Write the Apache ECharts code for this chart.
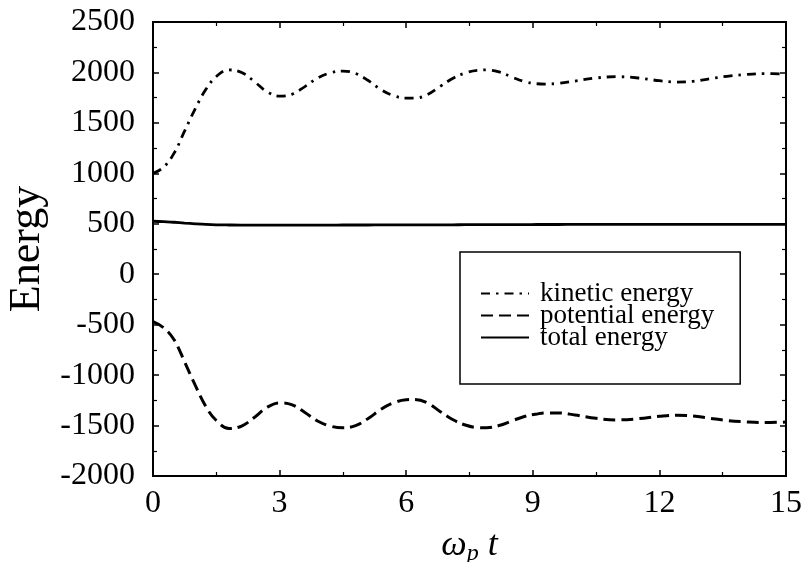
<!DOCTYPE html>
<html>
<head>
<meta charset="utf-8">
<script src="https://cdn.jsdelivr.net/npm/echarts@6/dist/echarts.min.js"></script>
<style>html,body{margin:0;padding:0;background:#fff;}#c{width:804px;height:562px;}</style>
</head>
<body>
<div id="c"></div>
<script>
const time = [0,0.25,0.5,0.75,1.0,1.25,1.5,1.8,2.1,2.4,2.7,3.0,3.3,3.6,3.9,4.2,4.5,4.8,5.1,5.4,5.7,6.0,6.2,6.5,6.8,7.1,7.4,7.7,7.9,8.2,8.5,8.8,9.1,9.3,9.6,10.0,10.5,11.0,11.5,12.0,12.4,12.8,13.2,13.6,14.0,14.5,15.0];
const kinetic = [1000,1060,1200,1420,1640,1830,1960,2025,2000,1910,1810,1765,1785,1860,1945,1995,2014,1990,1920,1830,1770,1745,1745,1780,1860,1940,1995,2022,2025,2005,1955,1910,1888,1885,1892,1915,1945,1958,1945,1918,1905,1912,1938,1962,1978,1988,1985];
const potential = [-470,-530,-650,-870,-1100,-1310,-1450,-1530,-1505,-1420,-1320,-1275,-1295,-1370,-1455,-1505,-1522,-1500,-1430,-1340,-1275,-1245,-1242,-1275,-1360,-1440,-1495,-1520,-1522,-1500,-1455,-1410,-1385,-1375,-1375,-1395,-1428,-1444,-1432,-1408,-1397,-1405,-1428,-1450,-1462,-1470,-1465];
const total = [525,522,515,507,500,494,490,488,487,487,487,487,487,487,487,487,488,488,488,489,489,490,490,490,490,490,491,491,491,492,492,492,493,493,493,494,494,494,495,495,495,495,495,495,495,495,495];
const xTicks = {min:0, max:15, interval:3};
const yTicks = {min:-2000, max:2500, interval:500};
const seriesNames = ['kinetic energy','potential energy','total energy'];

const pair = (ys) => time.map((t,i)=>[t, ys[i]]);
const font = 'Liberation Serif';
const chart = echarts.init(document.getElementById('c'));
const tickCommon = {show:true, inside:true, length:6, lineStyle:{color:'#000', width:1.5}};
const minorCommon = {show:true, splitNumber:2, length:4, lineStyle:{color:'#000', width:1.2}};
const axisLineCommon = {show:true, onZero:false, lineStyle:{color:'#000', width:2}};
chart.setOption({
  animation:false,
  backgroundColor:'#fff',
  grid:{left:153, right:18, top:22, bottom:86, show:true, borderColor:'#000', borderWidth:2, outerBoundsMode:'none', containLabel:false},
  legend:{
    left:460, top:252, orient:'vertical', data:seriesNames,
    backgroundColor:'#fff', borderColor:'#000', borderWidth:1.5,
    padding:[28,26,33,20], itemGap:-5, itemWidth:48, itemHeight:14,
    itemStyle:{color:'rgba(0,0,0,0)', borderWidth:0, opacity:0},
    textStyle:{fontFamily:font, fontSize:27, color:'#000', padding:[0,0,0,6]}
  },
  xAxis:[{
    type:'value', min:xTicks.min, max:xTicks.max, interval:xTicks.interval,
    axisLine:axisLineCommon,
    axisTick:tickCommon, minorTick:minorCommon, splitLine:{show:false},
    axisLabel:{fontFamily:font, fontSize:32, color:'#000', margin:12, formatter:(v)=>String(v)},
    name:'{a|ω}{b|p}{a| t}', nameLocation:'middle', nameGap:50,
    nameTextStyle:{rich:{a:{fontFamily:font, fontStyle:'italic', fontSize:36, color:'#000'}, b:{fontFamily:font, fontStyle:'italic', fontSize:24, color:'#000', verticalAlign:'bottom', padding:[16,0,0,0]}}}
  },{
    type:'value', position:'top', min:xTicks.min, max:xTicks.max, interval:xTicks.interval,
    axisLine:axisLineCommon,
    axisTick:tickCommon, minorTick:minorCommon, splitLine:{show:false}, axisLabel:{show:false}
  }],
  yAxis:[{
    type:'value', min:yTicks.min, max:yTicks.max, interval:yTicks.interval,
    axisLine:axisLineCommon,
    axisTick:tickCommon, minorTick:minorCommon, splitLine:{show:false},
    axisLabel:{fontFamily:font, fontSize:32, color:'#000', margin:18, formatter:(v)=>String(v)},
    name:'Energy', nameLocation:'middle', nameGap:104, nameRotate:90,
    nameTextStyle:{fontFamily:font, fontSize:44, color:'#000'}
  },{
    type:'value', position:'right', min:yTicks.min, max:yTicks.max, interval:yTicks.interval,
    axisLine:axisLineCommon,
    axisTick:tickCommon, minorTick:minorCommon, splitLine:{show:false}, axisLabel:{show:false}
  }],
  series:[
    {name:seriesNames[0], type:'line', data:pair(kinetic), smooth:0.4, symbol:'none',
     lineStyle:{color:'#000', width:2.8, type:[9,6,2.5,6]}, itemStyle:{color:'#000'}},
    {name:seriesNames[1], type:'line', data:pair(potential), smooth:0.4, symbol:'none',
     lineStyle:{color:'#000', width:3, type:[12,6]}, itemStyle:{color:'#000'}},
    {name:seriesNames[2], type:'line', data:pair(total), smooth:0.4, symbol:'none',
     lineStyle:{color:'#000', width:2.8, type:'solid'}, itemStyle:{color:'#000'}}
  ]
});
</script>
</body>
</html>
